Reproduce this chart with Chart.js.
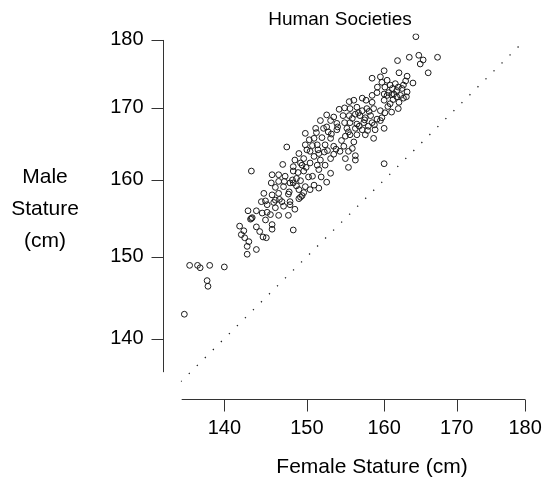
<!DOCTYPE html>
<html><head><meta charset="utf-8">
<script src="https://cdn.jsdelivr.net/npm/chart.js@4"></script>
<style>html,body{margin:0;padding:0;background:#fff}canvas{display:block}</style>
</head><body>
<canvas id="c" width="544" height="487"></canvas>
<script>
const female = [
136.0,136.9,137.2,138.3,140.0,138.0,138.1,135.4,
144.4,144.9,145.1,142.8,143.8,144.5,145.1,143.2,143.3,143.1,144.9,141.8,142.3,143.8,144.2,142.0,142.4,144.6,145.0,142.9,142.7,143.8,142.7,
147.5,147.0,143.2,145.7,146.5,147.3,145.6,146.5,147.2,146.1,147.1,147.9,144.7,145.7,146.5,147.7,146.1,145.9,146.9,147.9,149.0,146.1,147.1,147.9,148.5,145.5,146.5,147.7,145.7,145.7,148.3,149.2,
154.1,152.5,153.4,153.0,151.7,153.8,149.8,151.1,152.1,152.7,153.8,150.9,151.9,153.0,149.8,151.3,152.3,153.4,154.7,155.8,149.0,150.4,151.5,152.6,153.4,154.2,155.3,156.2,156.2,148.5,149.6,150.9,151.7,153.0,154.9,148.3,149.4,150.4,151.3,151.5,152.3,155.3,153.0,148.3,149.6,148.7,150.2,149.2,150.9,151.5,149.8,148.3,149.6,150.4,
158.4,159.1,158.4,159.05,161.7,162.6,163.0,157.1,156.0,155.4,160.8,161.9,161.0,154.8,155.5,156.4,157.1,157.7,158.6,159.5,154.6,155.4,156.2,156.8,157.5,158.2,159.05,159.7,154.8,155.5,156.4,157.3,158.4,160.0,155.1,156.2,157.1,157.9,158.8,155.5,156.4,157.5,158.6,156.0,
164.3,161.8,163.4,164.7,165.3,164.9,167.3,166.0,162.0,163.1,163.9,160.4,159.7,161.5,162.6,160.8,160.1,161.7,162.4,160.6,160.0,161.3,162.2,160.0,159.5,162.9,163.1,161.0,160.0,
147.8,146.6,149.4,148.2,148.7,149.0,151.4,150.7,152.2,152.5,153.1,153.9,153.7,154.4,154.9,150.3,151.2,150.0,149.2,149.9,150.7,151.8,152.5,148.9,
156.6,157.4,155.8,158.0,156.7,155.3,157.8,158.7,159.5,160.1,160.5,160.0,161.2,162.0,158.4,157.6,161.1,161.9,160.4
];
const male = [
148.9,148.9,148.6,148.9,148.7,147.0,146.3,142.9,
157.1,157.2,156.7,155.9,155.9,155.6,155.7,154.9,155.0,154.8,154.7,153.9,153.3,153.8,153.2,152.8,152.4,152.5,152.4,151.9,151.3,150.9,150.3,
164.5,162.1,161.2,160.7,160.7,160.5,159.6,159.8,159.8,159.0,159.1,159.6,158.2,158.0,158.2,158.1,157.3,157.0,157.1,157.1,157.5,156.3,156.5,156.7,156.1,155.4,155.3,155.3,154.1,153.5,153.4,157.7,
169.8,169.0,168.7,168.2,168.2,167.8,166.4,167.1,167.1,166.6,166.9,165.7,165.8,165.7,164.8,164.8,164.8,164.6,164.6,164.3,163.6,163.9,163.6,164.0,163.5,163.9,163.9,163.3,162.7,162.7,162.9,163.2,162.7,162.9,162.9,161.8,162.0,162.3,162.0,161.4,162.0,161.7,160.9,161.2,161.2,160.2,160.4,159.9,159.3,158.9,159.1,159.6,158.3,158.7,
174.3,173.0,171.8,172.2,171.6,171.4,171.6,171.4,171.1,170.9,170.6,169.9,169.4,170.0,169.9,170.1,169.6,169.9,169.9,169.6,168.9,168.9,169.1,168.9,168.6,168.9,168.4,168.6,167.9,167.9,167.7,167.9,167.9,167.1,167.1,167.1,166.9,167.4,166.9,166.2,166.2,166.2,165.7,165.2,
180.5,176.9,177.4,177.7,177.0,176.4,177.4,175.1,175.1,174.6,173.6,174.0,173.7,173.5,173.3,173.3,173.0,172.5,172.8,172.2,172.0,172.0,171.8,175.4,174.5,173.9,172.3,171.9,162.2,
158.4,157.4,157.9,160.0,159.2,158.7,164.1,164.7,163.8,167.3,166.3,167.3,164.2,165.4,166.0,165.5,166.5,164.1,162.3,161.7,160.5,160.4,159.7,161.0,
169.3,168.3,168.5,169.5,167.4,166.6,166.8,167.6,168.2,169.3,170.2,171.1,171.2,170.8,170.8,171.1,172.8,173.0,171.8
];
const xTicks = [140,150,160,170,180];
const yTicks = [140,150,160,170,180];
const refLine = [135,180];
const xAxisSpan = [135.1,180];
const yAxisSpan = [136.1,180];
const titleText = "Human Societies";
const xLabel = "Female Stature (cm)";
const yLabel = ["Male","Stature","(cm)"];

const FAMILY = '"Liberation Sans", Arial, sans-serif';
const INK = '#1a1a1a';

const axesPlugin = {
  id: 'rAxes',
  afterDraw(chart) {
    const {ctx, chartArea: a, scales: {x, y}} = chart;
    ctx.save();
    ctx.strokeStyle = '#333';
    ctx.lineWidth = 1;
    const axY = Math.round(a.bottom + 17) + 0.5;
    const axX = Math.round(a.left - 18) + 0.5;
    ctx.beginPath();
    ctx.moveTo(x.getPixelForValue(xAxisSpan[0]), axY);
    ctx.lineTo(x.getPixelForValue(xAxisSpan[1]), axY);
    xTicks.forEach(v => { const p = Math.round(x.getPixelForValue(v)) + 0.5; ctx.moveTo(p, axY); ctx.lineTo(p, axY + 12); });
    ctx.moveTo(axX, y.getPixelForValue(yAxisSpan[0]));
    ctx.lineTo(axX, y.getPixelForValue(yAxisSpan[1]));
    yTicks.forEach(v => { const p = Math.round(y.getPixelForValue(v)) + 0.5; ctx.moveTo(axX, p); ctx.lineTo(axX - 12, p); });
    ctx.stroke();

    ctx.fillStyle = '#000';
    ctx.font = '20px ' + FAMILY;
    ctx.textBaseline = 'middle';
    ctx.textAlign = 'center';
    xTicks.forEach(v => ctx.fillText(String(v), x.getPixelForValue(v), axY + 29));
    ctx.textAlign = 'right';
    yTicks.forEach(v => ctx.fillText(String(v), axX - 20, y.getPixelForValue(v)));
    ctx.textAlign = 'center';
    ctx.font = '19px ' + FAMILY;
    ctx.fillText(titleText, 340, 20);
    ctx.font = '21px ' + FAMILY;
    ctx.fillText(xLabel, 372, 467);
    yLabel.forEach((t, i) => ctx.fillText(t, 45, 177 + i * 32));
    ctx.restore();
  }
};

const points = female.map((f, i) => ({x: f, y: male[i]}));

new Chart(document.getElementById('c'), {
  data: {
    datasets: [
      {
        type: 'scatter',
        data: points,
        pointStyle: 'circle',
        pointRadius: 2.9,
        pointBorderWidth: 1,
        borderColor: INK,
        backgroundColor: 'rgba(0,0,0,0)',
        pointBackgroundColor: 'rgba(0,0,0,0)',
        pointBorderColor: INK
      },
      {
        type: 'line',
        data: refLine.map(v => ({x: v, y: v})),
        borderColor: '#222',
        borderWidth: 1.3,
        borderDash: [1.3, 10],
        pointRadius: 0,
        fill: false
      }
    ]
  },
  options: {
    responsive: false,
    animation: false,
    events: [],
    layout: {padding: {left: 180.8, right: 18.9, top: 33.4, bottom: 105.2}},
    plugins: {legend: {display: false}, title: {display: false}, tooltip: {enabled: false}},
    scales: {
      x: {type: 'logarithmic', min: 135, max: 180, display: false},
      y: {type: 'logarithmic', min: 135, max: 181, display: false}
    }
  },
  plugins: [axesPlugin]
});
</script>
</body></html>
